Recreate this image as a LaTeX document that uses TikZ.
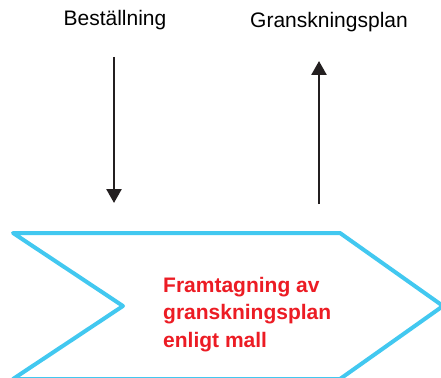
\documentclass[tikz,border=0pt]{standalone}
\usepackage{fontspec}
\setmainfont{Liberation Sans}
\usetikzlibrary{arrows.meta}
\definecolor{chevcyan}{RGB}{66,200,240}
\definecolor{txtred}{RGB}{236,28,36}
\definecolor{arrowblk}{RGB}{35,31,32}
\begin{document}
\begin{tikzpicture}[x=1pt,y=-1pt,
  lbl/.style={font=\fontsize{21}{25}\selectfont, text=black, inner sep=0pt, anchor=base},
  flow/.style={draw=arrowblk, line width=2.6pt, -{Triangle[length=14pt,width=15pt]}},
  chev/.style={draw=chevcyan, line width=4pt, line join=round, fill=white},
  redtxt/.style={font=\fontsize{21}{27.5}\selectfont\bfseries, text=txtred, align=left, inner sep=0pt, anchor=base west}]
\useasboundingbox (0,0) rectangle (441,377);
\begin{scope}
\clip (0,0) rectangle (441,377);
\draw[chev] (13,233) -- (340,233) -- (443,306) -- (340,379) -- (13,379) -- (123,306) -- cycle;
\end{scope}
\node[lbl] (best) at (115,26) {Beställning};
\node[lbl] (gran) at (329,28) {Granskningsplan};
\coordinate (d1) at (114,57);
\coordinate (d2) at (114,203);
\coordinate (u1) at (319,204);
\coordinate (u2) at (319,61);
\draw[flow] (d1) -- (d2);
\draw[flow] (u1) -- (u2);
\node[redtxt] (txt) at (163,347) {Framtagning av\\granskningsplan\\enligt mall};
\end{tikzpicture}
\end{document}
